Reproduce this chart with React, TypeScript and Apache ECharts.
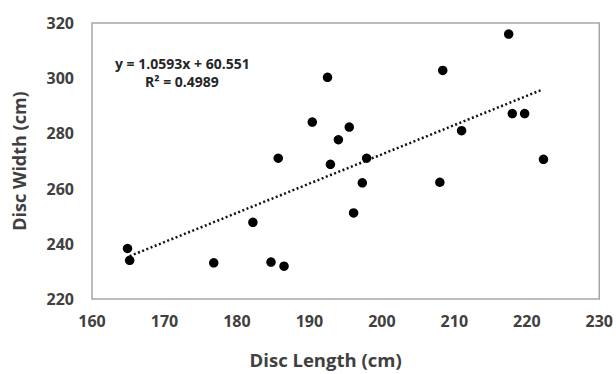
import React, { useEffect, useRef } from "react";
import * as echarts from "echarts";

const discLength = [164.9, 165.2, 176.8, 182.2, 184.7, 186.5, 185.7, 190.4, 192.5, 192.9, 194.0, 195.5, 196.1, 197.3, 197.9, 208.0, 208.4, 211.0, 217.5, 218.0, 219.7, 222.3];
const discWidth = [238.3, 234.0, 233.1, 247.8, 233.4, 231.9, 271.0, 284.1, 300.3, 268.8, 277.7, 282.3, 251.2, 262.1, 271.0, 262.3, 302.8, 281.0, 316.0, 287.2, 287.2, 270.6];
const slope = 1.0593;
const intercept = 60.551;
const trendX = [165.2, 222.0];
const equationText = "y = 1.0593x + 60.551";
const r2Text = "R² = 0.4989";

export default function App() {
  const ref = useRef<HTMLDivElement>(null);
  useEffect(() => {
    if (!ref.current) return;
    const chart = echarts.init(ref.current, null, { renderer: "svg" });
    const font = "'Open Sans', 'Noto Sans', sans-serif";
    const textColor = "#404040";
    chart.setOption({
      animation: false,
      backgroundColor: "#fff",
      grid: {
        left: 92,
        right: 13,
        top: 23,
        bottom: 73,
        show: true,
        borderColor: "#a6a6a6",
        borderWidth: 1.5,
      },
      xAxis: {
        type: "value",
        min: 160,
        max: 230,
        interval: 10,
        name: "Disc Length (cm)",
        nameLocation: "middle",
        nameGap: 51,
        nameTextStyle: { fontFamily: font, fontWeight: "bold", fontSize: 18.5, color: textColor, padding: [0, 40, 0, 0] },
        axisLine: { show: false },
        axisTick: { show: false },
        splitLine: { show: false },
        axisLabel: { fontFamily: font, fontWeight: "bold", fontSize: 16, color: textColor, margin: 14 },
      },
      yAxis: {
        type: "value",
        min: 220,
        max: 320,
        interval: 20,
        name: "Disc Width (cm)",
        nameLocation: "middle",
        nameGap: 64,
        nameTextStyle: { fontFamily: font, fontWeight: "bold", fontSize: 18, color: textColor },
        axisLine: { show: false },
        axisTick: { show: false },
        splitLine: { show: false },
        axisLabel: { fontFamily: font, fontWeight: "bold", fontSize: 16, color: textColor, margin: 18 },
      },
      series: [
        {
          type: "line",
          data: trendX.map((x) => [x, slope * x + intercept]),
          showSymbol: false,
          symbol: "none",
          lineStyle: { color: "#111", width: 2.5, type: [2, 2.5] },
          z: 1,
        },
        {
          type: "scatter",
          data: discLength.map((x, i) => [x, discWidth[i]]),
          symbolSize: 9.5,
          itemStyle: { color: "#000", opacity: 1 },
          z: 2,
        },
      ],
      graphic: [
        {
          type: "text",
          x: 115,
          y: 56,
          style: { text: equationText, font: `bold 14px ${font}`, fill: "#262626" },
        },
        {
          type: "text",
          x: 145,
          y: 74,
          style: { text: r2Text, font: `bold 14px ${font}`, fill: "#262626" },
        },
      ],
    });
    return () => chart.dispose();
  }, []);
  return <div ref={ref} style={{ width: 616, height: 374, position: "absolute", left: 0, top: 0 }} />;
}
